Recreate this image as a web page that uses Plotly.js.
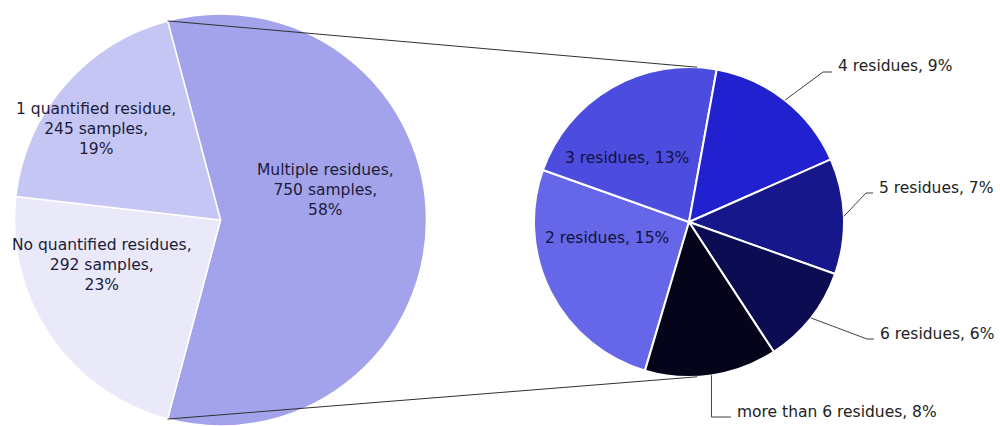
<!DOCTYPE html>
<html>
<head>
<meta charset="utf-8">
<script src="https://cdn.plot.ly/plotly-3.0.1.min.js"></script>
<style>
  html, body { margin: 0; padding: 0; background: #ffffff; overflow: hidden; }
  #chart { width: 1000px; height: 426px; }
</style>
</head>
<body>
<div id="chart"></div>
<script>
// Primary pie: samples grouped by number of quantified residues
const mainLabels = ['Multiple residues', 'No quantified residues', '1 quantified residue'];
const mainSamples = [750, 292, 245];
const mainColors = ['#a3a3ec', '#e9e9f9', '#c6c6f4'];

// Secondary pie: breakdown of the "Multiple residues" group (% of all samples)
const subLabels = ['2 residues', '3 residues', '4 residues', '5 residues', '6 residues', 'more than 6 residues'];
const subPercent = [15, 13, 9, 7, 6, 8];
const subColors = ['#6666e8', '#4c4cdf', '#2121d0', '#17178c', '#0c0c52', '#04041a'];

const W = 1000, H = 426;
const FONT = 'DejaVu Sans, Verdana, sans-serif';

// Pie placement in pixels (centre and radius)
const mainGeo = { cx: 220.5, cy: 220, r: 206 };
const subGeo = { cx: 689, cy: 222, r: 155 };

function domainOf(g) {
  return {
    x: [(g.cx - g.r) / W, (g.cx + g.r) / W],
    y: [(H - g.cy - g.r) / H, (H - g.cy + g.r) / H]
  };
}
const px = x => x / W;
const py = y => 1 - y / H;

// Clockwise angle in degrees (0 = 12 o'clock) -> pixel point at radius rr
function polar(g, deg, rr) {
  const a = deg * Math.PI / 180;
  return [g.cx + rr * Math.sin(a), g.cy - rr * Math.cos(a)];
}

// Start / end / middle angle of every slice of a clockwise pie beginning at rot
function sliceAngles(values, rot) {
  const total = values.reduce((a, b) => a + b, 0);
  let acc = rot;
  return values.map(v => {
    const s = acc;
    acc += 360 * v / total;
    return { start: s, end: acc, mid: (s + acc) / 2 };
  });
}

const mainTotal = mainSamples.reduce((a, b) => a + b, 0);
const mainPct = mainSamples.map(v => Math.round(100 * v / mainTotal));
// "Multiple residues" wedge is centred at 3 o'clock, facing the secondary pie
const mainRotation = 90 - 180 * mainSamples[0] / mainTotal;
const subRotation = 196.5;

const mainAng = sliceAngles(mainSamples, mainRotation);
const subAng = sliceAngles(subPercent, subRotation);

const traces = [
  {
    type: 'pie',
    labels: mainLabels,
    values: mainSamples,
    sort: false,
    direction: 'clockwise',
    rotation: mainRotation,
    domain: domainOf(mainGeo),
    marker: { colors: mainColors, line: { color: '#ffffff', width: 1.5 } },
    textinfo: 'none',
    hoverinfo: 'skip'
  },
  {
    type: 'pie',
    labels: subLabels,
    values: subPercent,
    sort: false,
    direction: 'clockwise',
    rotation: subRotation,
    domain: domainOf(subGeo),
    marker: { colors: subColors, line: { color: '#ffffff', width: 2 } },
    textinfo: 'none',
    hoverinfo: 'skip'
  }
];

// Label placement (pixels)
const mainLabelPos = [[325, 190], [102, 265], [96, 128.5]];
const subInsidePos = { 0: [607, 238], 1: [627, 158] };
const subOutsidePos = { 2: [836, 66], 3: [877, 188], 4: [878, 334], 5: [735, 412] };
const subElbow = { 2: [823, 72], 3: [866, 193], 4: [867, 339], 5: [null, 417] };

const annotations = [];
const shapes = [];

mainLabels.forEach((lab, i) => {
  const [x, y] = mainLabelPos[i];
  annotations.push({
    xref: 'paper', yref: 'paper', x: px(x), y: py(y),
    xanchor: 'center', yanchor: 'middle', align: 'center', showarrow: false,
    text: `${lab},<br>${mainSamples[i]} samples,<br>${mainPct[i]}%`,
    font: { family: FONT, size: 15.5, color: '#1c1c3a' }
  });
});

subLabels.forEach((lab, i) => {
  const text = `${lab}, ${subPercent[i]}%`;
  if (subInsidePos[i]) {
    const [x, y] = subInsidePos[i];
    annotations.push({
      xref: 'paper', yref: 'paper', x: px(x), y: py(y),
      xanchor: 'center', yanchor: 'middle', showarrow: false, text,
      font: { family: FONT, size: 15.5, color: '#12123a' }
    });
  } else {
    const [x, y] = subOutsidePos[i];
    annotations.push({
      xref: 'paper', yref: 'paper', x: px(x), y: py(y),
      xanchor: 'left', yanchor: 'middle', showarrow: false, text,
      font: { family: FONT, size: 15.5, color: '#222222' }
    });
    // leader line: slice edge -> elbow -> label
    const p0 = polar(subGeo, subAng[i].mid, subGeo.r);
    const e = subElbow[i];
    const ex = e[0] === null ? p0[0] : e[0];
    const ey = e[1];
    const endX = x - 4;
    shapes.push({
      type: 'path', xref: 'paper', yref: 'paper', layer: 'above',
      path: `M ${px(p0[0])} ${py(p0[1])} L ${px(ex)} ${py(ey)} L ${px(endX)} ${py(ey)}`,
      line: { color: '#404040', width: 1 }
    });
  }
});

// Connector lines between the "Multiple residues" wedge and the secondary pie
const topA = polar(mainGeo, mainAng[0].start, mainGeo.r);
const botA = polar(mainGeo, mainAng[0].end, mainGeo.r);
const topB = polar(subGeo, 3, subGeo.r);
const botB = polar(subGeo, 177, subGeo.r);
[[topA, topB], [botA, botB]].forEach(([a, b]) => {
  shapes.push({
    type: 'line', xref: 'paper', yref: 'paper', layer: 'above',
    x0: px(a[0]), y0: py(a[1]), x1: px(b[0]), y1: py(b[1]),
    line: { color: '#303030', width: 1 }
  });
});

const layout = {
  width: W, height: H,
  margin: { l: 0, r: 0, t: 0, b: 0 },
  paper_bgcolor: '#ffffff',
  showlegend: false,
  annotations, shapes
};

Plotly.newPlot('chart', traces, layout, { staticPlot: true, displayModeBar: false });
</script>
</body>
</html>
